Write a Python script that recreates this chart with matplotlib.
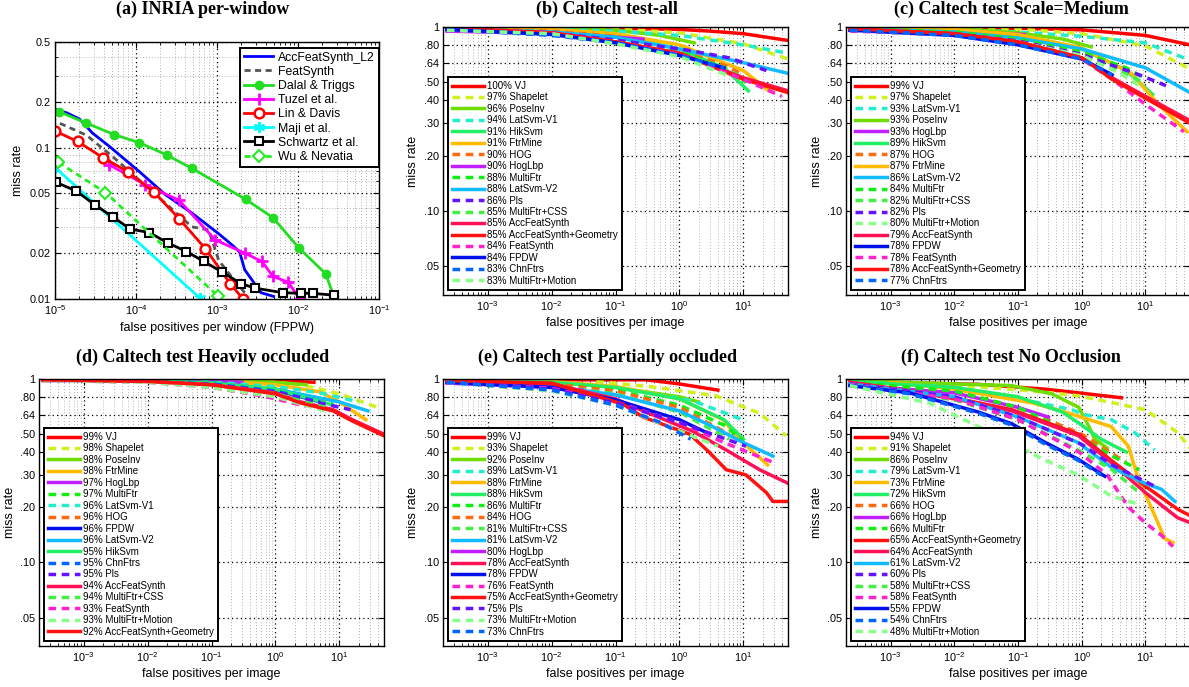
import matplotlib
matplotlib.use("Agg")
import matplotlib.pyplot as plt
from matplotlib.ticker import FixedLocator, FixedFormatter, NullLocator, LogLocator, NullFormatter

plt.rcParams['font.family'] = 'Liberation Sans'
plt.rcParams['mathtext.fontset'] = 'custom'
plt.rcParams['mathtext.rm'] = 'Liberation Sans'
plt.rcParams['mathtext.default'] = 'regular'

# --- (a) INRIA per-window: fppw / miss rate per method ---
a_accfs_l2_x = [1e-5, 1.4e-5, 2e-5, 2.9e-5, 4.7e-5, 1.1e-4, 2.3e-4, 4.9e-4, 1.05e-3, 1.5e-3, 1.9e-3, 2.2e-3, 3.5e-3, 5e-3]
a_accfs_l2_y = [0.18, 0.17, 0.155, 0.125, 0.102, 0.0695, 0.049, 0.037, 0.027, 0.023, 0.0205, 0.0156, 0.011, 0.0104]
a_featsynth_x = [1.15e-5, 2.45e-5, 5.2e-5, 1.1e-4, 2.3e-4, 4.9e-4, 7.9e-4, 1.05e-3, 1.5e-3, 2.2e-3]
a_featsynth_y = [0.145, 0.121, 0.087, 0.061, 0.043, 0.030, 0.0286, 0.018, 0.0141, 0.011]
a_dalal_x = [1.13e-5, 2.4e-5, 5.4e-5, 1.1e-4, 2.4e-4, 4.9e-4, 2.26e-3, 4.9e-3, 1.03e-2, 2.19e-2, 2.76e-2]
a_dalal_y = [0.173, 0.146, 0.122, 0.108, 0.0895, 0.073, 0.0456, 0.0345, 0.0217, 0.0147, 0.0105]
a_tuzel_x = [4.7e-5, 1.3e-4, 3.4e-4, 9.5e-4, 2.2e-3, 3.6e-3, 4.9e-3, 7.6e-3, 1.05e-2]
a_tuzel_y = [0.077, 0.057, 0.045, 0.0246, 0.0201, 0.0177, 0.0141, 0.0129, 0.01]
a_lin_x = [1e-5, 1.9e-5, 3.9e-5, 7.9e-5, 1.67e-4, 3.4e-4, 7.2e-4, 1.46e-3, 2.1e-3]
a_lin_y = [0.129, 0.11, 0.086, 0.0695, 0.0508, 0.034, 0.0215, 0.0126, 0.01]
a_maji_x = [1e-5, 6.2e-4]
a_maji_y = [0.074, 0.0101]
a_schwartz_x = [1.03e-5, 1.8e-5, 3.1e-5, 5.2e-5, 8.5e-5, 1.46e-4, 2.5e-4, 4.2e-4, 6.9e-4, 1.15e-3,
                2e-3, 2.95e-3, 6.6e-3, 1.1e-2, 1.53e-2, 2.75e-2]
a_schwartz_y = [0.059, 0.052, 0.042, 0.0348, 0.029, 0.0275, 0.0234, 0.0206, 0.0177, 0.0151,
                0.0126, 0.0118, 0.011, 0.0109, 0.0109, 0.0106]
a_wu_x = [1.1e-5, 4.2e-5, 1.02e-3]
a_wu_y = [0.08, 0.0505, 0.0105]

# --- Caltech panels: (log-avg miss %, method, fppi, miss rate) ---
b_curves = [
    (100, "VJ", [2.3e-4, 0.1, 1, 3, 10, 50], [.99, .985, .97, .95, .92, .845]),
    (97, "Shapelet", [5e-3, 0.1, 1, 10, 50], [.99, .975, .93, .81, .67]),
    (96, "PoseInv", [2.3e-4, 1e-2, 0.1, 0.5, 1.7], [.99, .985, .96, .90, .82]),
    (94, "LatSvm-V1", [2.3e-4, 1e-2, 0.1, 1, 10, 50], [.99, .97, .95, .90, .80, .72]),
    (91, "HikSvm", [2.3e-4, 1e-2, 0.1, 1, 5, 12], [.99, .96, .90, .76, .60, .45]),
    (91, "FtrMine", [1e-3, 1e-2, 0.1, 1, 10, 25], [.99, .97, .92, .80, .58, .45]),
    (90, "HOG", [2.3e-4, 1e-2, 0.1, 1, 5, 10], [.98, .95, .89, .75, .62, .55]),
    (90, "HogLbp", [2.3e-4, 1e-2, 0.1, 0.27], [.95, .92, .88, .86]),
    (88, "MultiFtr", [2.3e-4, 1e-2, 0.1, 1, 5, 11], [.98, .94, .86, .74, .60, .50]),
    (88, "LatSvm-V2", [2.3e-4, 1e-2, 0.1, 1, 10, 50], [.98, .94, .88, .76, .64, .56]),
    (86, "Pls", [2.3e-4, 1e-2, 0.1, 1.3, 6, 23], [.97, .93, .85, .75, .68, .58]),
    (85, "MultiFtr+CSS", [2.3e-4, 1e-2, 0.1, 1, 5, 10], [.97, .92, .83, .72, .60, .53]),
    (85, "AccFeatSynth", [2.3e-4, 1e-2, 0.1, 1, 10, 50], [.98, .93, .83, .72, .53, .45]),
    (85, "AccFeatSynth+Geometry", [2.3e-4, 1e-2, 0.1, 1, 10, 50], [.99, .93, .83, .72, .52, .44]),
    (84, "FeatSynth", [2.3e-4, 1e-2, 0.1, 1, 10, 40], [.96, .92, .82, .71, .52, .42]),
    (84, "FPDW", [2.3e-4, 1e-2, 0.1, 1, 5], [.97, .91, .82, .70, .60]),
    (83, "ChnFtrs", [2.3e-4, 1e-2, 0.1, 1, 5], [.97, .90, .82, .70, .60]),
    (83, "MultiFtr+Motion", [2.3e-4, 1e-2, 0.1, 1, 5.4], [.96, .92, .81, .69, .55]),
]

c_curves = [
    (99, "VJ", [2.3e-4, 0.1, 1, 10, 50], [.99, .985, .965, .90, .80]),
    (97, "Shapelet", [5e-3, 0.1, 1, 10, 50], [.99, .975, .92, .79, .59]),
    (93, "LatSvm-V1", [2.3e-4, 1e-2, 0.1, 1, 10, 50], [.99, .97, .94, .89, .82, .66]),
    (93, "PoseInv", [2.3e-4, 1e-2, 0.1, 0.5, 1.4], [.99, .98, .93, .86, .78]),
    (93, "HogLbp", [2.3e-4, 1e-2, 0.125], [.97, .95, .91]),
    (89, "HikSvm", [2.3e-4, 1e-2, 0.1, 1, 5, 13], [.99, .96, .90, .76, .58, .43]),
    (87, "HOG", [2.3e-4, 1e-2, 0.1, 1, 5.7], [.98, .95, .88, .73, .58]),
    (87, "FtrMine", [1e-3, 1e-2, 0.1, 1, 6, 16, 45], [.99, .97, .91, .77, .56, .38, .27]),
    (86, "LatSvm-V2", [2.3e-4, 1e-2, 0.1, 1, 10, 50], [.98, .94, .87, .76, .60, .44]),
    (84, "MultiFtr", [2.3e-4, 1e-2, 0.1, 1, 5, 10], [.98, .94, .86, .73, .60, .52]),
    (82, "MultiFtr+CSS", [2.3e-4, 1e-2, 0.1, 1, 5, 9], [.97, .92, .84, .71, .56, .50]),
    (82, "Pls", [2.3e-4, 1e-2, 0.1, 1, 2.3, 8, 21], [.97, .92, .84, .71, .64, .55, .48]),
    (80, "MultiFtr+Motion", [2.3e-4, 1e-2, 0.1, 1, 4, 8], [.96, .91, .83, .70, .56, .48]),
    (79, "AccFeatSynth", [2.3e-4, 1e-2, 0.1, 1, 3, 10, 50], [.97, .92, .83, .68, .53, .42, .31]),
    (78, "FPDW", [2.3e-4, 1e-2, 0.1, 1, 3], [.96, .90, .80, .67, .55]),
    (78, "FeatSynth", [2.3e-4, 1e-2, 0.1, 1, 3, 10, 40], [.95, .91, .82, .67, .52, .38, .27]),
    (78, "AccFeatSynth+Geometry", [2.3e-4, 1e-2, 0.1, 1, 3, 10, 50], [.98, .92, .83, .68, .52, .41, .30]),
    (77, "ChnFtrs", [2.3e-4, 1e-2, 0.1, 1, 3], [.96, .90, .80, .67, .55]),
]

d_curves = [
    (99, "VJ", [2.3e-4, 0.1, 1, 4], [1.0, .99, .98, .96]),
    (98, "Shapelet", [1e-2, 0.1, 1, 3, 10, 40], [1.0, .99, .96, .92, .83, .70]),
    (98, "PoseInv", [2.3e-4, 0.1, 1, 3], [1.0, .99, .96, .93]),
    (98, "FtrMine", [1e-3, 0.1, 1, 5, 10, 26], [1.0, .98, .93, .85, .75, .60]),
    (97, "HogLbp", [2.3e-4, 1e-2, 0.1, 0.3], [.98, .98, .97, .96]),
    (97, "MultiFtr", [2.3e-4, 1e-2, 0.1, 1, 8], [.99, .98, .96, .89, .74]),
    (96, "LatSvm-V1", [2.3e-4, 1e-2, 0.1, 1, 5, 20], [.99, .98, .96, .91, .84, .75]),
    (96, "HOG", [2.3e-4, 1e-2, 0.1, 1, 6], [.99, .98, .95, .88, .77]),
    (96, "FPDW", [2.3e-4, 1e-2, 0.1, 1, 5], [.99, .98, .95, .87, .75]),
    (96, "LatSvm-V2", [2.3e-4, 1e-2, 0.1, 1, 10, 28], [.99, .98, .95, .88, .75, .67]),
    (95, "HikSvm", [2.3e-4, 1e-2, 0.1, 1, 8], [.99, .98, .95, .88, .72]),
    (95, "ChnFtrs", [2.3e-4, 1e-2, 0.1, 1, 5], [.99, .97, .94, .86, .75]),
    (95, "Pls", [2.3e-4, 1e-2, 0.1, 1, 5, 15], [.99, .97, .93, .85, .74, .68]),
    (94, "AccFeatSynth", [2.3e-4, 1e-2, 0.1, 1, 2.5, 8, 16, 50], [.99, .97, .93, .84, .75, .68, .60, .50]),
    (94, "MultiFtr+CSS", [2.3e-4, 1e-2, 0.1, 1, 6], [.99, .97, .92, .83, .70]),
    (93, "FeatSynth", [2.3e-4, 1e-2, 0.1, 0.5, 1, 3], [.98, .96, .90, .82, .78, .71]),
    (93, "MultiFtr+Motion", [2.3e-4, 1e-2, 0.1, 1, 6], [.98, .96, .90, .80, .67]),
    (92, "AccFeatSynth+Geometry", [2.3e-4, 1e-2, 0.1, 1, 2.5, 8, 16, 50], [.99, .97, .93, .83, .74, .67, .59, .49]),
]

e_curves = [
    (99, "VJ", [2.3e-4, 0.3, 1, 4], [.99, .99, .94, .87]),
    (93, "Shapelet", [0.05, 0.44, 3.7, 18, 47], [.97, .90, .81, .65, .49]),
    (92, "PoseInv", [2.3e-4, 1e-2, 0.1, 1, 2], [.99, .96, .90, .80, .75]),
    (89, "LatSvm-V1", [2.3e-4, 1e-2, 0.1, 1, 2, 11], [.98, .95, .89, .79, .74, .59]),
    (88, "FtrMine", [1e-3, 1e-2, 0.1, 1, 4.8, 8.7, 24], [.99, .97, .91, .78, .60, .47, .34]),
    (88, "HikSvm", [2.3e-4, 1e-2, 0.1, 1, 5, 10], [.99, .96, .90, .78, .60, .47]),
    (86, "MultiFtr", [2.3e-4, 1e-2, 0.1, 1, 5, 10], [.98, .94, .87, .72, .56, .46]),
    (84, "HOG", [2.3e-4, 1e-2, 0.1, 1, 6], [.98, .94, .86, .70, .50]),
    (81, "MultiFtr+CSS", [2.3e-4, 1e-2, 0.1, 1, 6], [.97, .92, .83, .66, .47]),
    (81, "LatSvm-V2", [2.3e-4, 1e-2, 0.1, 1, 3, 10, 29], [.97, .91, .82, .67, .56, .45, .38]),
    (80, "HogLbp", [2.3e-4, 1e-2, 0.03], [.95, .90, .87]),
    (78, "AccFeatSynth", [2.3e-4, 1e-2, 0.1, 0.27, 1.6, 5.4, 18, 50], [.97, .94, .78, .67, .52, .41, .32, .27]),
    (78, "FPDW", [2.3e-4, 1e-2, 0.1, 1, 3], [.96, .90, .77, .60, .50]),
    (76, "FeatSynth", [2.3e-4, 1e-2, 0.1, 1, 5, 30], [.96, .89, .75, .58, .45, .35]),
    (75, "AccFeatSynth+Geometry", [2.3e-4, 1e-2, 0.13, 0.27, 1.45, 2.9, 5.4, 11, 23, 29, 50],
     [.98, .95, .73, .62, .50, .40, .32, .30, .24, .215, .215]),
    (75, "Pls", [2.3e-4, 1e-2, 0.1, 1, 11], [.96, .88, .74, .58, .43]),
    (73, "MultiFtr+Motion", [2.3e-4, 1e-2, 0.1, 1, 4], [.96, .86, .72, .52, .43]),
    (73, "ChnFtrs", [2.3e-4, 1e-2, 0.1, 0.5, 1.5], [.96, .87, .72, .58, .47]),
]

f_curves = [
    (94, "VJ", [2.3e-4, 0.024, 0.27, 0.9, 4.2], [.97, .935, .88, .84, .79]),
    (91, "Shapelet", [1e-2, 0.17, 0.9, 10, 32, 50], [.93, .86, .81, .68, .51, .42]),
    (86, "PoseInv", [2.3e-4, 0.08, 0.34, 0.9, 1.3, 1.6, 2.5], [.98, .92, .83, .70, .55, .47, .42]),
    (79, "LatSvm-V1", [2.3e-4, 1e-2, 0.044, 0.7, 1.1, 2.9, 6.8, 14], [.97, .90, .83, .68, .64, .60, .51, .41]),
    (73, "FtrMine", [1e-3, 1e-2, 0.17, 0.55, 2.9, 5.4, 7.6, 14, 20, 27],
     [.96, .88, .74, .66, .55, .43, .29, .18, .135, .128]),
    (72, "HikSvm", [2.3e-4, 1e-2, 0.1, 0.5, 1, 2, 5], [.97, .90, .80, .66, .56, .47, .40]),
    (66, "HOG", [2.3e-4, 1e-2, 0.1, 1, 5], [.95, .85, .70, .50, .35]),
    (66, "HogLbp", [2.3e-4, 1e-2, 0.1, 0.3], [.93, .84, .70, .62]),
    (66, "MultiFtr", [2.3e-4, 1e-2, 0.1, 1, 3, 8], [.96, .86, .70, .48, .38, .32]),
    (65, "AccFeatSynth+Geometry", [2.3e-4, 7e-3, 0.08, 0.9, 2.9, 10, 32, 50], [.96, .81, .68, .50, .36, .26, .195, .18]),
    (64, "AccFeatSynth", [2.3e-4, 7e-3, 0.08, 0.9, 2.9, 10, 32, 50], [.96, .80, .67, .49, .35, .24, .175, .165]),
    (61, "LatSvm-V2", [2.3e-4, 1e-2, 0.1, 0.88, 2.9, 9.8, 18, 29], [.94, .80, .62, .45, .33, .27, .25, .215]),
    (60, "Pls", [2.3e-4, 1e-2, 0.1, 1, 3, 14], [.94, .80, .62, .44, .34, .26]),
    (58, "MultiFtr+CSS", [2.3e-4, 1e-2, 0.1, 1, 3, 8], [.93, .77, .60, .40, .32, .24]),
    (58, "FeatSynth", [2.3e-4, 1e-2, 0.1, 0.9, 2.5, 5.4, 9.8, 18, 27], [.93, .78, .60, .40, .30, .20, .165, .14, .122]),
    (55, "FPDW", [2.3e-4, 2e-3, 0.024, 0.08, 0.27, 0.88, 2.3], [.92, .84, .66, .57, .45, .365, .295]),
    (54, "ChnFtrs", [2.3e-4, 2e-3, 0.024, 0.08, 0.27, 0.88, 2], [.92, .83, .65, .56, .44, .36, .30]),
    (48, "MultiFtr+Motion", [2.3e-4, 4e-3, 0.024, 0.27, 0.88, 2.9, 7], [.92, .74, .55, .36, .30, .23, .21]),
]

caltech_yticks = [0.05, 0.1, 0.2, 0.3, 0.4, 0.5, 0.64, 0.8, 1.0]
caltech_yticklabels = ['.05', '.10', '.20', '.30', '.40', '.50', '.64', '.80', '1']

# colour, dashed
METHOD_STYLE = {
    "VJ": ("#ff0000", False),
    "Shapelet": ("#d2ef1e", True),
    "PoseInv": ("#70dd00", False),
    "LatSvm-V1": ("#22eecc", True),
    "HikSvm": ("#22ee66", False),
    "FtrMine": ("#ffbb00", False),
    "HOG": ("#ff6a10", True),
    "HogLbp": ("#c020ff", False),
    "MultiFtr": ("#11ee11", True),
    "LatSvm-V2": ("#11bbff", False),
    "Pls": ("#6611ff", True),
    "MultiFtr+CSS": ("#44ee44", True),
    "AccFeatSynth": ("#ff1155", False),
    "AccFeatSynth+Geometry": ("#ff1111", False),
    "FeatSynth": ("#ff22cc", True),
    "FPDW": ("#0011ee", False),
    "ChnFtrs": ("#0066ff", True),
    "MultiFtr+Motion": ("#88ff88", True),
}

W, H = 1189, 687
fig = plt.figure(figsize=(W / 100, H / 100), dpi=100)


def rect(l, t, r, b):
    return [l / W, 1 - b / H, (r - l) / W, (b - t) / H]


DOT = (0, (1, 2.5))


def style_axes(ax):
    ax.set_xscale('log')
    ax.set_yscale('log')
    ax.set_axisbelow(True)
    ax.tick_params(which='both', direction='in', top=True, right=True, labelsize=7.8, pad=3)
    ax.tick_params(which='major', length=4)
    ax.tick_params(which='minor', length=2)
    for s in ax.spines.values():
        s.set_linewidth(1.0)


def draw_caltech(ax, curves, title, title_xy, ylab_x):
    style_axes(ax)
    for pct, name, xs, ys in curves:
        col, dashed = METHOD_STYLE[name]
        ls = (0, (2.2, 1.6)) if dashed else '-'
        ax.plot(xs, ys, color=col, lw=2.5, ls=ls, label=f"{pct}% {name}")
    ax.set_xlim(2e-4, 50)
    ax.set_ylim(0.035, 1)
    ax.yaxis.set_major_locator(FixedLocator(caltech_yticks))
    ax.yaxis.set_major_formatter(FixedFormatter(caltech_yticklabels))
    ax.yaxis.set_minor_locator(NullLocator())
    ax.xaxis.set_major_locator(LogLocator(base=10, numticks=12))
    ax.xaxis.set_minor_locator(LogLocator(base=10, subs=range(2, 10), numticks=12))
    ax.xaxis.set_minor_formatter(NullFormatter())
    ax.grid(True, which='major', color='k', ls=DOT, lw=0.9)
    ax.grid(True, which='minor', axis='x', color='0.6', ls=DOT, lw=0.6)
    ax.set_xlabel('false positives per image', fontsize=9)
    ax.set_ylabel('miss rate', fontsize=9)
    ax.yaxis.set_label_coords(ylab_x, 0.5)
    ax.xaxis.set_label_coords(0.5, -0.082)
    leg = ax.legend(loc='lower left', fontsize=7, labelspacing=0.15, handlelength=3.3,
                    handletextpad=0.3, borderpad=0.45, borderaxespad=0.5,
                    fancybox=False, edgecolor='k', framealpha=1)
    leg.get_frame().set_linewidth(1.4)
    fig.text(title_xy[0] / W, 1 - title_xy[1] / H, title, ha='center', va='center',
             family='Liberation Serif', weight='bold', fontsize=13)


# --- (a) ---
ax = fig.add_axes(rect(55, 42, 379, 299))
style_axes(ax)
ax.plot(a_accfs_l2_x, a_accfs_l2_y, color='#0000ff', lw=2, label='AccFeatSynth_L2')
ax.plot(a_featsynth_x, a_featsynth_y, color='#555555', lw=2, ls=(0, (2.2, 1.6)), label='FeatSynth')
ax.plot(a_dalal_x, a_dalal_y, color='#22dd22', lw=2, marker='o', ms=6, label='Dalal & Triggs')
ax.plot(a_tuzel_x, a_tuzel_y, color='#ff00ff', lw=2, marker='+', ms=8, mew=2, label='Tuzel et al.')
ax.plot(a_lin_x, a_lin_y, color='#ff0000', lw=2, marker='o', ms=7, mfc='white', mew=1.8, label='Lin & Davis')
ax.plot(a_maji_x, a_maji_y, color='#00ffff', lw=2, marker=(6, 2, 0), ms=8, mew=1.5, label='Maji et al.')
ax.plot(a_schwartz_x, a_schwartz_y, color='k', lw=2, marker='s', ms=6, mfc='white', mew=1.5, label='Schwartz et al.')
ax.plot(a_wu_x, a_wu_y, color='#22ee22', lw=2, ls=(0, (2.2, 1.6)), marker='D', ms=6, mfc='white', mew=1.5,
        label='Wu & Nevatia')
ax.set_xlim(1e-5, 1e-1)
ax.set_ylim(0.01, 0.5)
ax.yaxis.set_major_locator(FixedLocator([0.01, 0.02, 0.05, 0.1, 0.2, 0.5]))
ax.yaxis.set_major_formatter(FixedFormatter(['0.01', '0.02', '0.05', '0.1', '0.2', '0.5']))
ax.yaxis.set_minor_locator(FixedLocator([0.03, 0.04, 0.06, 0.07, 0.08, 0.09, 0.3, 0.4]))
ax.yaxis.set_minor_formatter(NullFormatter())
ax.xaxis.set_major_locator(LogLocator(base=10, numticks=12))
ax.xaxis.set_minor_locator(LogLocator(base=10, subs=range(2, 10), numticks=12))
ax.xaxis.set_minor_formatter(NullFormatter())
ax.grid(True, which='major', color='k', ls=DOT, lw=0.9)
ax.grid(True, which='minor', color='0.6', ls=DOT, lw=0.6)
ax.set_xlabel('false positives per window (FPPW)', fontsize=9)
ax.set_ylabel('miss rate', fontsize=9)
ax.yaxis.set_label_coords(-0.095, 0.5)
ax.xaxis.set_label_coords(0.5, -0.09)
leg = ax.legend(loc='upper right', bbox_to_anchor=(0.999, 0.977), borderaxespad=0, fontsize=8.8,
                labelspacing=0.18, handlelength=2.4, handletextpad=0.4, borderpad=0.3,
                fancybox=False, edgecolor='k', framealpha=1)
leg.get_frame().set_linewidth(1.4)
fig.text(203 / W, 1 - 9 / H, '(a) INRIA per-window', ha='center', va='center',
         family='Liberation Serif', weight='bold', fontsize=13)

# --- Caltech panels ---
draw_caltech(fig.add_axes(rect(443, 27, 788, 295)), b_curves, '(b) Caltech test-all', (607, 9), -0.07)
draw_caltech(fig.add_axes(rect(846, 27, 1190, 295)), c_curves, '(c) Caltech test Scale=Medium', (1011, 9), -0.067)
draw_caltech(fig.add_axes(rect(39, 379, 384, 646)), d_curves, '(d) Caltech test Heavily occluded', (203, 357), -0.067)
draw_caltech(fig.add_axes(rect(443, 379, 788, 646)), e_curves, '(e) Caltech test Partially occluded', (607, 357), -0.07)
draw_caltech(fig.add_axes(rect(846, 379, 1190, 646)), f_curves, '(f) Caltech test No Occlusion', (1011, 357), -0.067)

fig.savefig('out.png', dpi=100)
